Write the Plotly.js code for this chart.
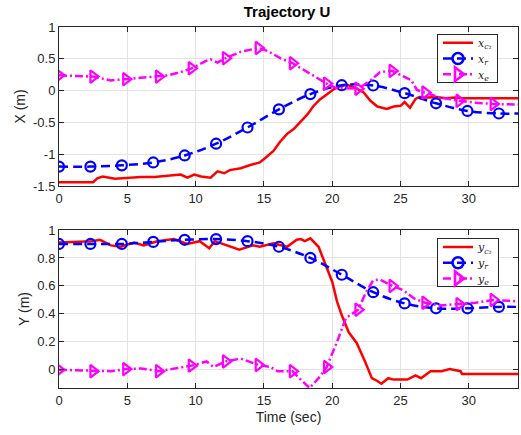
<!DOCTYPE html>
<html>
<head>
<meta charset="utf-8">
<script src="https://cdn.plot.ly/plotly-3.0.1.min.js"></script>
<style>html,body{margin:0;padding:0;background:#fff;}#chart{width:521px;height:435px;}</style>
</head>
<body>
<div id="chart"></div>
<script>
// ---- X (top) data ----
var xc2T = [0, 2.5, 2.8, 3.2, 4.1, 5, 6, 7, 8, 8.9, 9.4, 9.9, 10.4, 11.1, 11.6, 12.1, 12.5, 13.3, 14.0, 14.7, 15.1, 15.7, 16.2, 16.7, 17.2, 17.7, 18.2, 18.6, 19.1, 19.6, 20.1, 20.6, 21.1, 21.8, 22.3, 22.8, 23.3, 24.0, 24.5, 25.0, 25.3, 25.7, 26.1, 26.4, 27.0, 27.6, 28.3, 29.0, 29.5, 33.6];
var xc2V = [-1.44, -1.44, -1.38, -1.35, -1.385, -1.37, -1.36, -1.36, -1.34, -1.32, -1.37, -1.32, -1.35, -1.37, -1.27, -1.30, -1.25, -1.22, -1.17, -1.13, -1.06, -0.95, -0.80, -0.68, -0.60, -0.48, -0.37, -0.25, -0.14, -0.06, 0.02, 0.07, 0.09, 0.03, -0.03, -0.16, -0.25, -0.29, -0.25, -0.24, -0.18, -0.27, -0.13, -0.10, -0.11, -0.10, -0.12, -0.11, -0.12, -0.12];

var xrT = [0, 2.3, 4.6, 6.9, 9.2, 11.5, 13.8, 16.1, 18.4, 20.7, 23.0, 25.3, 27.6, 29.9, 32.2, 33.6];
var xrV = [-1.195, -1.195, -1.175, -1.13, -1.02, -0.835, -0.58, -0.295, -0.055, 0.085, 0.08, -0.04, -0.20, -0.32, -0.36, -0.36];

var xeT = [0, 2.5, 3.8, 4.9, 6.0, 7.3, 8.0, 8.9, 9.7, 10.8, 11.1, 11.6, 12.2, 13.3, 14.6, 15.3, 16.2, 17.1, 18.2, 19.4, 19.6, 20.3, 21.1, 21.9, 22.8, 23.5, 24.4, 25.2, 25.8, 26.2, 26.8, 27.9, 29.3, 30.5, 31.8, 33.6];
var xeV = [0.24, 0.22, 0.16, 0.18, 0.20, 0.22, 0.24, 0.29, 0.35, 0.47, 0.49, 0.44, 0.51, 0.61, 0.67, 0.62, 0.51, 0.43, 0.29, 0.14, 0.11, 0.04, 0.03, 0.03, 0.16, 0.29, 0.31, 0.22, 0.16, 0.01, -0.03, -0.11, -0.16, -0.19, -0.21, -0.22];

// ---- Y (bottom) data ----
var yc2T = [0, 2.4, 3.0, 3.8, 4.5, 5.5, 6.2, 7.2, 8.4, 9.4, 10.3, 11.0, 11.4, 12.3, 13.2, 14.2, 14.7, 15.7, 16.7, 17.4, 17.7, 18.0, 18.4, 19.0, 19.5, 20.0, 20.35, 20.7, 21.2, 21.8, 22.4, 22.9, 23.3, 23.6, 24.1, 24.5, 25.5, 26.1, 26.5, 27.2, 28.0, 28.6, 29.4, 29.5, 33.6];
var yc2V = [0.91, 0.92, 0.93, 0.89, 0.88, 0.91, 0.89, 0.92, 0.935, 0.90, 0.92, 0.87, 0.92, 0.89, 0.86, 0.89, 0.88, 0.905, 0.88, 0.93, 0.935, 0.92, 0.94, 0.88, 0.75, 0.63, 0.49, 0.39, 0.27, 0.19, 0.06, -0.06, -0.08, -0.10, -0.06, -0.07, -0.07, -0.04, -0.06, -0.01, -0.01, 0.005, -0.01, -0.03, -0.03];

var yrT = [0, 2.3, 4.6, 6.9, 9.2, 11.5, 13.8, 16.1, 18.4, 20.7, 23.0, 25.3, 27.6, 29.9, 32.2, 33.6];
var yrV = [0.90, 0.90, 0.90, 0.915, 0.93, 0.935, 0.92, 0.88, 0.80, 0.68, 0.555, 0.475, 0.44, 0.44, 0.45, 0.45];

var yeT = [0, 2.5, 3.8, 4.9, 6.0, 7.3, 8.5, 9.7, 10.8, 11.3, 12.2, 13.3, 14.6, 15.5, 16.0, 17.1, 17.7, 18.35, 19.0, 19.6, 20.35, 21.0, 21.9, 22.5, 23.0, 23.5, 24.4, 25.2, 26.0, 26.8, 27.9, 29.3, 30.5, 31.8, 33.6];
var yeV = [0.0, -0.01, -0.01, 0.005, 0.01, -0.01, 0.01, 0.03, 0.06, 0.02, 0.06, 0.08, 0.035, 0.02, -0.01, -0.01, -0.07, -0.13, -0.06, 0.02, 0.20, 0.37, 0.43, 0.56, 0.64, 0.645, 0.60, 0.57, 0.51, 0.48, 0.46, 0.47, 0.48, 0.50, 0.49];

// marker times
var circleT = [0, 2.3, 4.6, 6.9, 9.2, 11.5, 13.8, 16.1, 18.4, 20.7, 23.0, 25.3, 27.6, 29.9, 32.2];
var triT = [0, 2.5, 4.9, 7.3, 9.7, 12.2, 14.6, 17.1, 19.6, 21.9, 24.4, 26.8, 29.3, 31.8];

// ticks
var xTicks = [0, 5, 10, 15, 20, 25, 30];
var xTopTicks = [-1.5, -1, -0.5, 0, 0.5, 1];
var xTopTickText = ['-1.5', '-1', '-0.5', '0', '0.5', '1'];
var yBotTicks = [0, 0.2, 0.4, 0.6, 0.8, 1];
var yBotTickText = ['0', '0.2', '0.4', '0.6', '0.8', '1'];

var legendTop = ['<i>x</i><sub><i>c</i>₂</sub>', '<i>x</i><sub><i>r</i></sub>', '<i>x</i><sub><i>e</i></sub>'];
var legendBot = ['<i>y</i><sub><i>c</i>₂</sub>', '<i>y</i><sub><i>r</i></sub>', '<i>y</i><sub><i>e</i></sub>'];

function pick(T, V, times) {
  return times.map(function (t) { return V[T.indexOf(t)]; });
}

var RED = '#ff0000', BLUE = '#0000ff', MAG = '#ff00ff';
var LW = 2.5;
var styles = [
  {color: RED, dash: 'solid', symbol: null},
  {color: BLUE, dash: '9px,5px', symbol: 'circle-open', size: 10, shape: 'spline'},
  {color: MAG, dash: '8px,3px,2px,3px', symbol: 'triangle-right-open', size: 11, shape: 'linear'}
];

var traces = [];
function addGroup(xa, ya, legendId, names, series) {
  series.forEach(function (s, i) {
    var st = styles[i];
    traces.push({
      x: s.T, y: s.V, xaxis: xa, yaxis: ya, type: 'scatter', mode: 'lines',
      line: {color: st.color, width: LW, dash: st.dash, shape: st.shape || 'linear'},
      showlegend: false, hoverinfo: 'skip'
    });
    if (st.symbol) {
      traces.push({
        x: s.mT, y: pick(s.T, s.V, s.mT), xaxis: xa, yaxis: ya, type: 'scatter', mode: 'markers',
        marker: {symbol: st.symbol, size: st.size, color: st.color, line: {color: st.color, width: 2.2}},
        showlegend: false, hoverinfo: 'skip'
      });
    }
    var leg = {
      x: [null], y: [null], xaxis: xa, yaxis: ya, type: 'scatter',
      mode: st.symbol ? 'lines+markers' : 'lines',
      name: names[i], legend: legendId,
      line: {color: st.color, width: LW, dash: st.dash}
    };
    if (st.symbol) leg.marker = {symbol: st.symbol, size: st.size + 1, color: st.color, line: {color: st.color, width: 2.6}};
    traces.push(leg);
  });
}

addGroup('x', 'y', 'legend', legendTop, [
  {T: xc2T, V: xc2V},
  {T: xrT, V: xrV, mT: circleT},
  {T: xeT, V: xeV, mT: triT}
]);
addGroup('x2', 'y2', 'legend2', legendBot, [
  {T: yc2T, V: yc2V},
  {T: yrT, V: yrV, mT: circleT},
  {T: yeT, V: yeV, mT: triT}
]);

var AX = '#262626';
var FAM = 'Liberation Sans, Arial, sans-serif';
var tickFont = {family: FAM, size: 13, color: AX};
function xAxis(anchor) {
  return {
    anchor: anchor, range: [0, 33.6], tickvals: xTicks, ticks: 'inside', ticklen: 5,
    tickcolor: AX, showline: true, linecolor: AX, linewidth: 1, mirror: 'ticks',
    showgrid: true, gridcolor: '#e3e3e3', gridwidth: 1, zeroline: false, tickfont: tickFont
  };
}
function yAxis(anchor, domain, range, tv, tt, title) {
  return {
    anchor: anchor, domain: domain, range: range, tickvals: tv, ticktext: tt, ticks: 'inside', ticklen: 5,
    tickcolor: AX, showline: true, linecolor: AX, linewidth: 1, mirror: 'ticks',
    showgrid: true, gridcolor: '#e3e3e3', gridwidth: 1, zeroline: false, tickfont: tickFont,
    title: {text: title, font: {family: FAM, size: 14, color: AX}, standoff: 4}
  };
}

var legFont = {family: 'DejaVu Serif, serif', size: 11, color: '#222'};
var layout = {
  width: 521, height: 435,
  margin: {l: 59, r: 3, t: 27, b: 47},
  paper_bgcolor: '#fff', plot_bgcolor: '#fff',
  title: {text: '<b>Trajectory U</b>', font: {family: FAM, size: 15, color: '#000'},
          x: 0.551, xanchor: 'center', y: 0.972, yanchor: 'middle'},
  xaxis: xAxis('y'),
  yaxis: yAxis('x', [0.5596, 1], [-1.5, 1], xTopTicks, xTopTickText, 'X (m)'),
  xaxis2: Object.assign(xAxis('y2'), {title: {text: 'Time (sec)', font: {family: FAM, size: 14, color: AX}, standoff: 5}}),
  yaxis2: yAxis('x2', [0, 0.4377], [-0.13, 1], yBotTicks, yBotTickText, 'Y (m)'),
  legend: {x: 0.8235, y: 0.981, xanchor: 'left', yanchor: 'top', bgcolor: '#fff', bordercolor: '#262626', borderwidth: 1,
           font: legFont, itemwidth: 30, tracegroupgap: 0},
  legend2: {x: 0.8235, y: 0.4155, xanchor: 'left', yanchor: 'top', bgcolor: '#fff', bordercolor: '#262626', borderwidth: 1,
           font: legFont, itemwidth: 30, tracegroupgap: 0},
  showlegend: true
};

Plotly.newPlot('chart', traces, layout, {staticPlot: true, displayModeBar: false}).then(function (gd) {
  // tighten legend row spacing to match the compact reference legend boxes
  ['legend', 'legend2'].forEach(function (id) {
    var lg = gd.querySelector('g.infolayer g.' + id);
    if (!lg) return;
    var items = lg.querySelectorAll('g.traces');
    items.forEach(function (it, i) {
      it.setAttribute('transform', 'translate(1,' + (9 + i * 15.7) + ')');
    });
    var bg = lg.querySelector('rect.bg');
    if (bg) bg.setAttribute('height', 48);
  });
});
</script>
</body>
</html>
